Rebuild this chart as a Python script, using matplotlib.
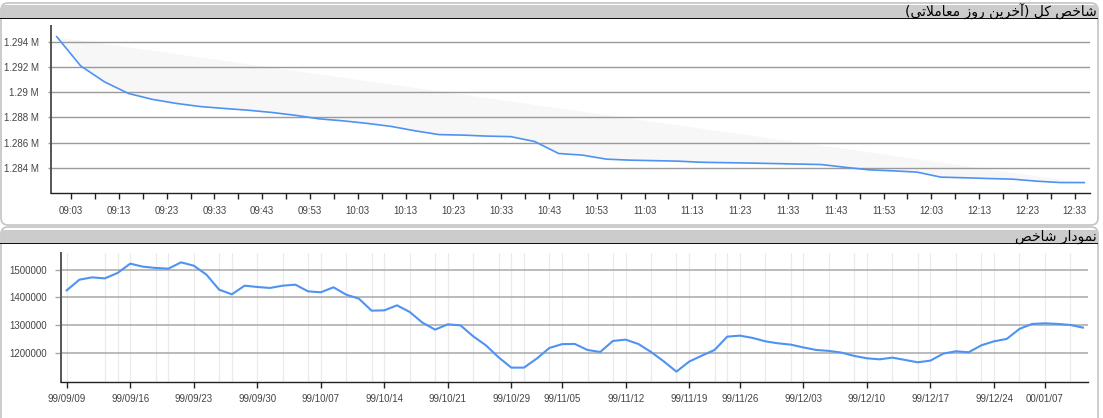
import numpy as np
import matplotlib
matplotlib.use('Agg')
from matplotlib import pyplot as plt
from matplotlib.patches import FancyBboxPatch, Rectangle
from matplotlib.ticker import FixedLocator, FuncFormatter

# ---- data: intraday index (last trading day) ----
intra_times = ['09:00', '09:05', '09:10', '09:15', '09:20', '09:25', '09:30', '09:35',
               '09:40', '09:45', '09:50', '09:55', '10:00', '10:05', '10:10', '10:15',
               '10:20', '10:25', '10:30', '10:35', '10:40', '10:45', '10:50', '10:55',
               '11:00', '11:05', '11:10', '11:15', '11:20', '11:25', '11:30', '11:35',
               '11:40', '11:45', '11:50', '11:55', '12:00', '12:05', '12:10', '12:15',
               '12:20', '12:25', '12:30', '12:35']
intra_vals = [1294420, 1292100, 1290830, 1289910, 1289440, 1289120, 1288870, 1288720,
              1288580, 1288400, 1288170, 1287890, 1287730, 1287530, 1287290, 1286940,
              1286640, 1286600, 1286520, 1286480, 1286090, 1285140, 1285010, 1284690,
              1284610, 1284570, 1284530, 1284440, 1284410, 1284380, 1284340, 1284300,
              1284260, 1284040, 1283840, 1283760, 1283660, 1283260, 1283210, 1283150,
              1283100, 1282940, 1282830, 1282830]
intra_ticks = ['09:03', '09:13', '09:23', '09:33', '09:43', '09:53', '10:03', '10:13',
               '10:23', '10:33', '10:43', '10:53', '11:03', '11:13', '11:23', '11:33',
               '11:43', '11:53', '12:03', '12:13', '12:23', '12:33']
intra_yticks = [1284000, 1286000, 1288000, 1290000, 1292000, 1294000]

# ---- data: daily index ----
daily_vals = [1425540, 1464030, 1472300, 1468700, 1488100, 1521600, 1510800, 1506100,
              1503600, 1526300, 1514400, 1482000, 1428000, 1411200, 1442400, 1437700,
              1434200, 1442400, 1446000, 1422000, 1418500, 1436600, 1410100, 1395700,
              1352500, 1353600, 1371600, 1347800, 1309400, 1284200, 1303200, 1299600,
              1260100, 1227700, 1184500, 1147500, 1147500, 1179900, 1218300, 1232000,
              1232600, 1211000, 1203800, 1243500, 1248200, 1232600, 1203800, 1170100,
              1133100, 1169100, 1190600, 1211000, 1259000, 1262600, 1254300, 1242100,
              1234900, 1230200, 1220000, 1211000, 1207600, 1201400, 1189600, 1180900,
              1177300, 1183500, 1175000, 1166600, 1172700, 1197800, 1206200, 1202600,
              1227700, 1242100, 1250700, 1286700, 1304700, 1306800, 1304700, 1301100,
              1291400]
daily_tick_pos = [0, 5, 10, 15, 20, 25, 30, 35, 39, 44, 49, 53, 58, 63, 68, 73, 77]
daily_tick_lbl = ['99/09/09', '99/09/16', '99/09/23', '99/09/30', '99/10/07', '99/10/14',
                  '99/10/21', '99/10/29', '99/11/05', '99/11/12', '99/11/19', '99/11/26',
                  '99/12/03', '99/12/10', '99/12/17', '99/12/24', '00/01/07']
daily_minor_grid = [3, 4, 7, 8, 12, 13, 17, 19, 22, 24, 27, 29, 32, 34, 36, 38, 41, 43,
                    46, 48, 51, 52, 55, 57, 60, 62, 65, 67, 70, 72, 75, 79]
daily_yticks = [1200000, 1300000, 1400000, 1500000]

title_top = 'شاخص کل (آخرین روز معاملاتی)'
title_bottom = 'نمودار شاخص'

# minimal arabic/persian shaping (matplotlib has no complex text layout)
FORMS = {
    'ا': ('\uFE8D', '\uFE8E', None, None),
    'آ': ('\uFE81', '\uFE82', None, None),
    'د': ('\uFEA9', '\uFEAA', None, None),
    'ر': ('\uFEAD', '\uFEAE', None, None),
    'ز': ('\uFEAF', '\uFEB0', None, None),
    'و': ('\uFEED', '\uFEEE', None, None),
    'ت': ('\uFE95', '\uFE96', '\uFE97', '\uFE98'),
    'خ': ('\uFEA5', '\uFEA6', '\uFEA7', '\uFEA8'),
    'ش': ('\uFEB5', '\uFEB6', '\uFEB7', '\uFEB8'),
    'ص': ('\uFEB9', '\uFEBA', '\uFEBB', '\uFEBC'),
    'ع': ('\uFEC9', '\uFECA', '\uFECB', '\uFECC'),
    'ک': ('\uFB8E', '\uFB8F', '\uFB90', '\uFB91'),
    'ل': ('\uFEDD', '\uFEDE', '\uFEDF', '\uFEE0'),
    'م': ('\uFEE1', '\uFEE2', '\uFEE3', '\uFEE4'),
    'ن': ('\uFEE5', '\uFEE6', '\uFEE7', '\uFEE8'),
    'ی': ('\uFBFC', '\uFBFD', '\uFBFE', '\uFBFF'),
}
LAMALEF = {'ا': ('\uFEFB', '\uFEFC'), 'آ': ('\uFEF5', '\uFEF6')}


def shape(s):
    out = []
    i = 0
    while i < len(s):
        c = s[i]
        if c not in FORMS:
            out.append(c)
            i += 1
            continue
        prev = s[i - 1] if i > 0 else ''
        pj = prev in FORMS and FORMS[prev][2] is not None
        if c == 'ل' and i + 1 < len(s) and s[i + 1] in LAMALEF:
            out.append(LAMALEF[s[i + 1]][1 if pj else 0])
            i += 2
            continue
        nxt = s[i + 1] if i + 1 < len(s) else ''
        nj = nxt in FORMS and FORMS[c][2] is not None
        iso, fin, ini, med = FORMS[c]
        if pj and nj:
            out.append(med)
        elif pj:
            out.append(fin)
        elif nj:
            out.append(ini)
        else:
            out.append(iso)
        i += 1
    vis = ''.join(reversed(out))
    return vis.translate(str.maketrans('()', ')('))


plt.rcParams['font.family'] = ['Liberation Sans', 'DejaVu Sans']

W, H = 1103, 418
fig = plt.figure(figsize=(W / 100, H / 100), dpi=100)


def box(x0, y0, x1, y1):
    # pixel coords measured from top-left -> display coords
    return (x0, H - y1, x1 - x0, y1 - y0)


# panel frames (behind the axes)
for (y0, y1) in [(3, 225), (227, 430)]:
    x, y, w, h = box(1, y0, 1098, y1)
    fig.patches.append(FancyBboxPatch((x, y), w, h, boxstyle='round,pad=0,rounding_size=7',
                                      transform=None, facecolor='white', edgecolor='#c4c4c4',
                                      lw=1.2, zorder=-3))
for (y0, y1) in [(5, 17.5), (230, 242.7)]:
    x, y, w, h = box(1, y0, 1098, y1)
    fig.patches.append(Rectangle((x, y), w, h, transform=None, facecolor='#cccccc',
                                 edgecolor='none', zorder=-2))
    x, y, w, h = box(0, y1, 1098, y1 + 1.2)
    fig.patches.append(Rectangle((x, y), w, h, transform=None, facecolor='#111111',
                                 edgecolor='none', zorder=-1))

fig.text(1097 / W, 1 - 11.5 / H, shape(title_top), family='DejaVu Sans', fontsize=10,
         ha='right', va='center', color='black')
fig.text(1097 / W, 1 - 236.5 / H, shape(title_bottom), family='DejaVu Sans', fontsize=10,
         ha='right', va='center', color='black')

LINE = '#4e93f2'
LABEL = '#444444'

# ---- top chart ----
ax1 = fig.add_axes([51 / W, 1 - 193 / H, (1090 - 51) / W, (193 - 26) / H])
t = np.array([int(s[:2]) * 60 + int(s[3:]) - 540 for s in intra_times], dtype=float)
v = np.array(intra_vals, dtype=float)
chord = v[0] + (v[-1] - v[0]) * (t - t[0]) / (t[-1] - t[0])
ax1.fill_between(t, v, chord, color='#f7f7f7', lw=0, zorder=1)
ax1.plot(t, v, color=LINE, lw=1.2, zorder=3)
ax1.set_xlim(-1.2, 216.2)
ax1.set_ylim(1282000, 1295270)
tk = [int(s[:2]) * 60 + int(s[3:]) - 540 for s in intra_ticks]
ax1.xaxis.set_major_locator(FixedLocator(tk))
ax1.set_xticklabels(intra_ticks)
ax1.xaxis.set_minor_locator(FixedLocator([x + 5 for x in tk[:-1]]))
ax1.yaxis.set_major_locator(FixedLocator(intra_yticks))
ax1.yaxis.set_major_formatter(FuncFormatter(lambda y, p: '%g M' % round(y / 1e6, 3)))
ax1.grid(axis='y', color='#9a9a9a', lw=1.0, zorder=0)
ax1.tick_params(axis='x', which='both', length=4, width=1, color='#222222', pad=5,
                labelsize=7, labelcolor=LABEL)
ax1.tick_params(axis='y', length=2, width=1, color='#9a9a9a', pad=7,
                labelsize=7, labelcolor=LABEL)

# ---- bottom chart ----
ax2 = fig.add_axes([61 / W, 1 - 382 / H, (1088 - 61) / W, (382 - 253) / H])
idx = np.arange(len(daily_vals))
ax2.plot(idx, daily_vals, color=LINE, lw=1.5, zorder=3)
ax2.set_xlim(-0.45, 80.4)
ax2.set_ylim(1095700, 1560000)
for g in daily_minor_grid + daily_tick_pos:
    ax2.axvline(g, color='#ebebeb', lw=0.9, zorder=0)
ax2.xaxis.set_major_locator(FixedLocator(daily_tick_pos))
ax2.set_xticklabels(daily_tick_lbl)
ax2.yaxis.set_major_locator(FixedLocator(daily_yticks))
ax2.yaxis.set_major_formatter(FuncFormatter(lambda y, p: '%d' % y))
ax2.grid(axis='y', color='#a8a8a8', lw=1.1, zorder=1)
ax2.tick_params(axis='x', length=4, width=1, color='#222222', pad=5,
                labelsize=7, labelcolor=LABEL)
ax2.tick_params(axis='y', length=4, width=1, color='#a8a8a8', pad=6,
                labelsize=7, labelcolor=LABEL)

for ax in (ax1, ax2):
    ax.set_facecolor('none')
    for s in ('top', 'right'):
        ax.spines[s].set_visible(False)
    ax.spines['left'].set_color('#555555')
    ax.spines['left'].set_linewidth(1.4)
    ax.spines['bottom'].set_color('#222222')
    ax.spines['bottom'].set_linewidth(1.0)

fig.savefig('out.png', dpi=100)
